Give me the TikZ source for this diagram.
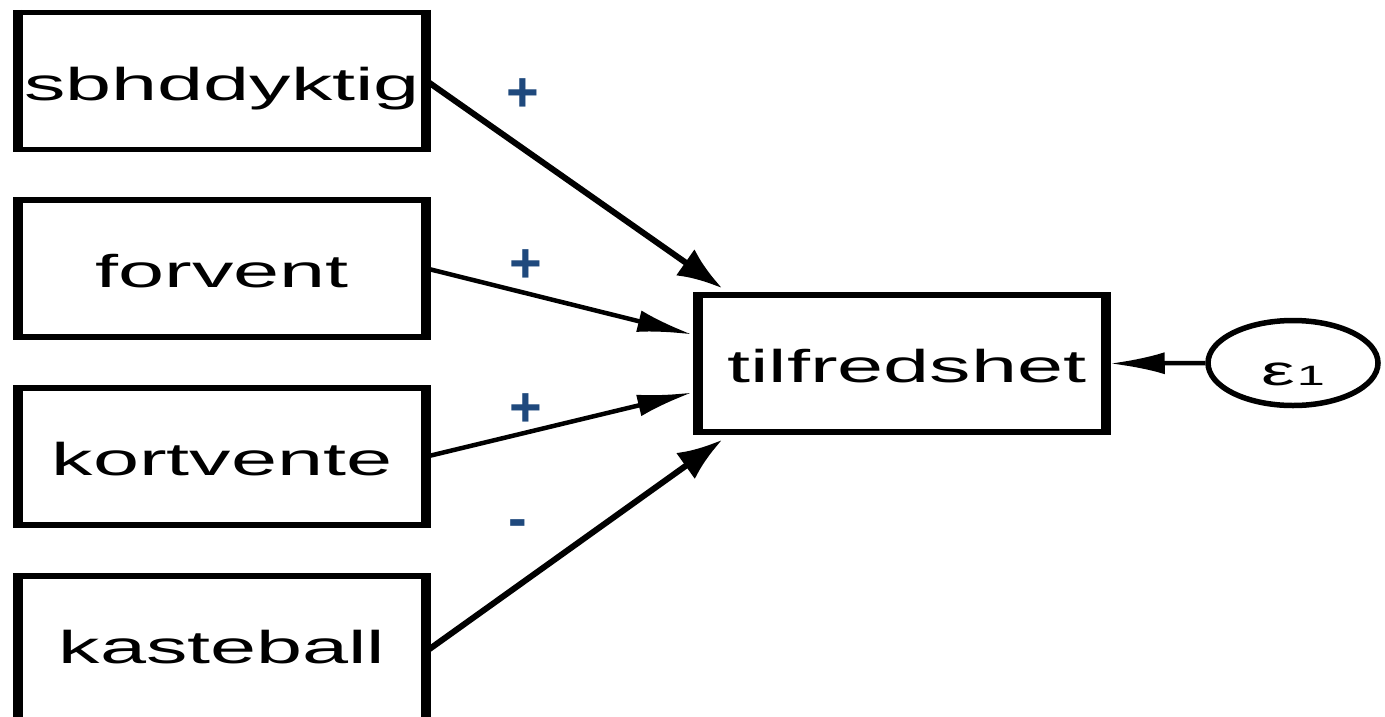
\documentclass[tikz,border=0pt]{standalone}
\usepackage{fontspec}
\usepackage{graphicx}
\setmainfont{Liberation Sans}
\usetikzlibrary{arrows.meta,calc,shapes.geometric}
\definecolor{lblblue}{HTML}{1F497D}
\newcommand\widetext[1]{\scalebox{1.8}[1]{#1}}
\begin{document}
\begin{tikzpicture}[x=1pt,y=-1pt,
  varbox/.style={draw,line width=5.5pt,minimum width=404pt,minimum height=137pt,inner sep=0pt,
    text height=38pt,text depth=0pt,font=\fontsize{46}{50}\selectfont},
  vedge/.style={line width=8.5pt},
  errnode/.style={ellipse,draw,line width=5.5pt,minimum width=170pt,minimum height=85pt,inner sep=0pt,
    text height=44pt,text depth=0pt},
  diag/.style={line width=6pt,-{Latex[length=45pt,width=32pt]}},
  flat/.style={line width=4.5pt,-{Latex[length=55pt,width=22pt]}},
  sign/.style={text=lblblue,font=\fontsize{56}{60}\bfseries,inner sep=0pt,anchor=base}
]
\useasboundingbox (0,0) rectangle (1385,716);
\node[varbox] (sb) at (222,81) {\widetext{sbhddyktig}};
\node[varbox] (fo) at (222,268.5) {\widetext{forvent}};
\node[varbox] (ko) at (222,456.5) {\widetext{kortvente}};
\node[varbox,minimum height=150pt,text height=24pt] (ka) at (222,651) {\widetext{kasteball}};
\node[varbox] (t) at (902,363.5) {\hspace{10pt}\widetext{tilfredshet}};
\foreach \n in {sb,fo,ko,ka,t}{
  \draw[vedge] (\n.north west) -- (\n.south west) (\n.north east) -- (\n.south east);
}
\node[errnode] (e) at (1293,363) {\widetext{\fontsize{42}{44}\selectfont ε}\kern2pt\widetext{\fontsize{28}{30}\selectfont 1}\hspace{13pt}};
\draw[diag] (sb.east) -- ($(t.north west)+(25,-4)$);
\draw[flat] (fo.east) -- ($(t.west)+(-5,-29)$);
\draw[flat] (ko.east) -- ($(t.west)+(-5,29)$);
\draw[diag] (ka.east) -- ($(t.south west)+(25,5)$);
\draw[flat] (e.west) -- ($(t.east)+(3,0)$);
\node[sign] (s1) at (523,111) {+};
\node[sign] (s2) at (526,282) {+};
\node[sign] (s3) at (526,426) {+};
\node[sign] (s4) at (518,537) {-};
\end{tikzpicture}
\end{document}
